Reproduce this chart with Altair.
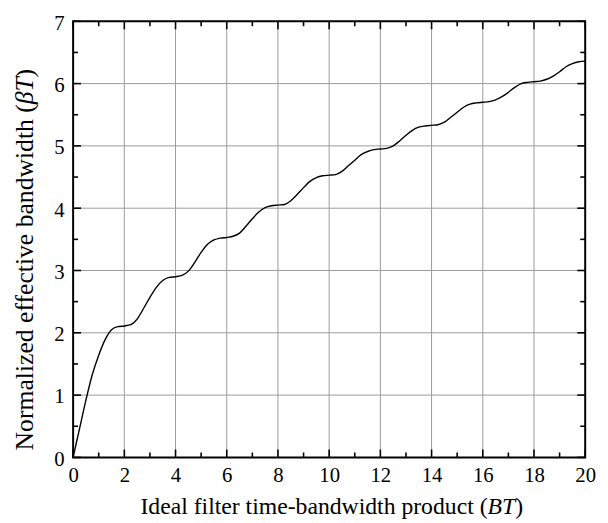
import altair as alt
import pandas as pd

# ---- data ----
bt = [0.0, 0.25, 0.5, 0.75, 1.0, 1.25, 1.5, 1.75, 2.0, 2.25, 2.5, 2.75, 3.0, 3.25, 3.5, 3.75,
      4.0, 4.25, 4.5, 4.75, 5.0, 5.25, 5.5, 5.75, 6.0, 6.25, 6.5, 6.75, 7.0, 7.25, 7.5, 7.75,
      8.0, 8.25, 8.5, 8.75, 9.0, 9.25, 9.5, 9.75, 10.0, 10.25, 10.5, 10.75, 11.0, 11.25, 11.5, 11.75,
      12.0, 12.25, 12.5, 12.75, 13.0, 13.25, 13.5, 13.75, 14.0, 14.25, 14.5, 14.75, 15.0, 15.25, 15.5, 15.75,
      16.0, 16.25, 16.5, 16.75, 17.0, 17.25, 17.5, 17.75, 18.0, 18.25, 18.5, 18.75, 19.0, 19.25, 19.5, 19.75,
      20.0]
beta_t = [0.00, 0.46, 0.92, 1.33, 1.64, 1.89, 2.05, 2.10, 2.11, 2.13, 2.22, 2.39, 2.57, 2.73, 2.84, 2.89,
          2.90, 2.92, 2.99, 3.13, 3.29, 3.42, 3.49, 3.52, 3.53, 3.55, 3.60, 3.71, 3.83, 3.94, 4.01, 4.04,
          4.05, 4.06, 4.12, 4.22, 4.33, 4.43, 4.49, 4.52, 4.53, 4.54, 4.59, 4.68, 4.77, 4.86, 4.91, 4.94,
          4.95, 4.96, 5.00, 5.08, 5.17, 5.25, 5.30, 5.32, 5.33, 5.34, 5.38, 5.46, 5.54, 5.62, 5.67, 5.69,
          5.70, 5.71, 5.74, 5.79, 5.86, 5.94, 6.00, 6.02, 6.03, 6.04, 6.07, 6.12, 6.19, 6.27, 6.32, 6.35,
          6.36]

x_labels = [0, 2, 4, 6, 8, 10, 12, 14, 16, 18, 20]
x_minor = [1, 3, 5, 7, 9, 11, 13, 15, 17, 19]
x_grid = [2, 4, 6, 8, 10, 12, 14, 16, 18]
y_labels = [0, 1, 2, 3, 4, 5, 6, 7]
y_minor = [0.5, 1.5, 2.5, 3.5, 4.5, 5.5, 6.5]
y_grid = [1, 2, 3, 4, 5, 6]

x_title_main = "Ideal filter time-bandwidth product ("
x_title_ital = "BT"
y_title_main = "Normalized effective bandwidth ("
y_title_ital = "\u03b2T"
close_paren = ")"

W, H = 519, 442
FONT = "Liberation Serif"
LABEL_SIZE = 21
XTITLE_SIZE = 24
YTITLE_SIZE = 26

xs = alt.Scale(domain=[0, 20], nice=False, zero=False)
ys = alt.Scale(domain=[0, 7], nice=False, zero=False)

axis_x = alt.Axis(values=x_labels, grid=False, ticks=False, domain=False, title=None,
                  labelFont=FONT, labelFontSize=LABEL_SIZE, labelColor="black",
                  labelPadding=7, labelFlush=False, labelOverlap=False)
axis_y = alt.Axis(values=y_labels, grid=False, ticks=False, domain=False, title=None,
                  labelFont=FONT, labelFontSize=LABEL_SIZE, labelColor="black",
                  labelPadding=9, labelFlush=False, labelOverlap=False, labelOffset=2)

df = pd.DataFrame({"bt": bt, "beta": beta_t})

# grid lines
xgrid = alt.Chart(pd.DataFrame({"v": x_grid})).mark_rule(color="#9a9a9a", strokeWidth=1).encode(
    x=alt.X("v:Q", scale=xs, axis=axis_x))
ygrid = alt.Chart(pd.DataFrame({"v": y_grid})).mark_rule(color="#9a9a9a", strokeWidth=1).encode(
    y=alt.Y("v:Q", scale=ys, axis=axis_y))

line = alt.Chart(df).mark_line(color="black", strokeWidth=1.4, interpolate="monotone").encode(
    x=alt.X("bt:Q", scale=xs, axis=axis_x),
    y=alt.Y("beta:Q", scale=ys, axis=axis_y),
)

def xticks(vals, length, top):
    d = pd.DataFrame({"v": vals})
    if top:
        yy, yy2 = alt.value(0), alt.value(length)
    else:
        yy, yy2 = alt.value(H), alt.value(H - length)
    return alt.Chart(d).mark_rule(color="black", strokeWidth=1.6).encode(
        x=alt.X("v:Q", scale=xs, axis=axis_x), y=yy, y2=yy2)

def yticks(vals, length, right):
    d = pd.DataFrame({"v": vals})
    if right:
        xx, xx2 = alt.value(W), alt.value(W - length)
    else:
        xx, xx2 = alt.value(0), alt.value(length)
    return alt.Chart(d).mark_rule(color="black", strokeWidth=1.6).encode(
        y=alt.Y("v:Q", scale=ys, axis=axis_y), x=xx, x2=xx2)

ticks = [
    xticks(x_labels, 8, False), xticks(x_labels, 8, True),
    xticks(x_minor, 5, False), xticks(x_minor, 5, True),
    yticks(y_labels, 8, False), yticks(y_labels, 8, True),
    yticks(y_minor, 5, False), yticks(y_minor, 5, True),
]

# axis titles (with italic parts)
XT_X, XT_Y = 420, 499
BT_W = 28
xt1 = alt.Chart(pd.DataFrame({"t": [x_title_main]})).mark_text(
    font=FONT, fontSize=XTITLE_SIZE, align="right", baseline="alphabetic", color="black").encode(
    text="t:N", x=alt.value(XT_X), y=alt.value(XT_Y))
xt2 = alt.Chart(pd.DataFrame({"t": [x_title_ital]})).mark_text(
    font=FONT, fontSize=XTITLE_SIZE, fontStyle="italic", align="left", baseline="alphabetic", color="black").encode(
    text="t:N", x=alt.value(XT_X), y=alt.value(XT_Y))
xt3 = alt.Chart(pd.DataFrame({"t": [close_paren]})).mark_text(
    font=FONT, fontSize=XTITLE_SIZE, align="left", baseline="alphabetic", color="black").encode(
    text="t:N", x=alt.value(XT_X + BT_W), y=alt.value(XT_Y))

YT_X, YT_Y = -41, 84
BETA_W = 27
yt1 = alt.Chart(pd.DataFrame({"t": [y_title_main]})).mark_text(
    font=FONT, fontSize=YTITLE_SIZE, align="right", baseline="alphabetic", angle=270, color="black").encode(
    text="t:N", x=alt.value(YT_X), y=alt.value(YT_Y))
yt2 = alt.Chart(pd.DataFrame({"t": [y_title_ital]})).mark_text(
    font=FONT, fontSize=YTITLE_SIZE, fontStyle="italic", align="left", baseline="alphabetic", angle=270, color="black").encode(
    text="t:N", x=alt.value(YT_X), y=alt.value(YT_Y))
yt3 = alt.Chart(pd.DataFrame({"t": [close_paren]})).mark_text(
    font=FONT, fontSize=YTITLE_SIZE, align="left", baseline="alphabetic", angle=270, color="black").encode(
    text="t:N", x=alt.value(YT_X), y=alt.value(YT_Y - BETA_W))

chart = alt.layer(xgrid, ygrid, *ticks, line, xt1, xt2, xt3, yt1, yt2, yt3).properties(
    width=W, height=H,
    background="white",
    autosize=alt.AutoSizeParams(type="none"),
    padding={"left": 66, "top": 10, "right": 15, "bottom": 62},
).configure_view(stroke="black", strokeWidth=2)

chart.save("out.html", embed_options={"renderer": "svg", "actions": False})
